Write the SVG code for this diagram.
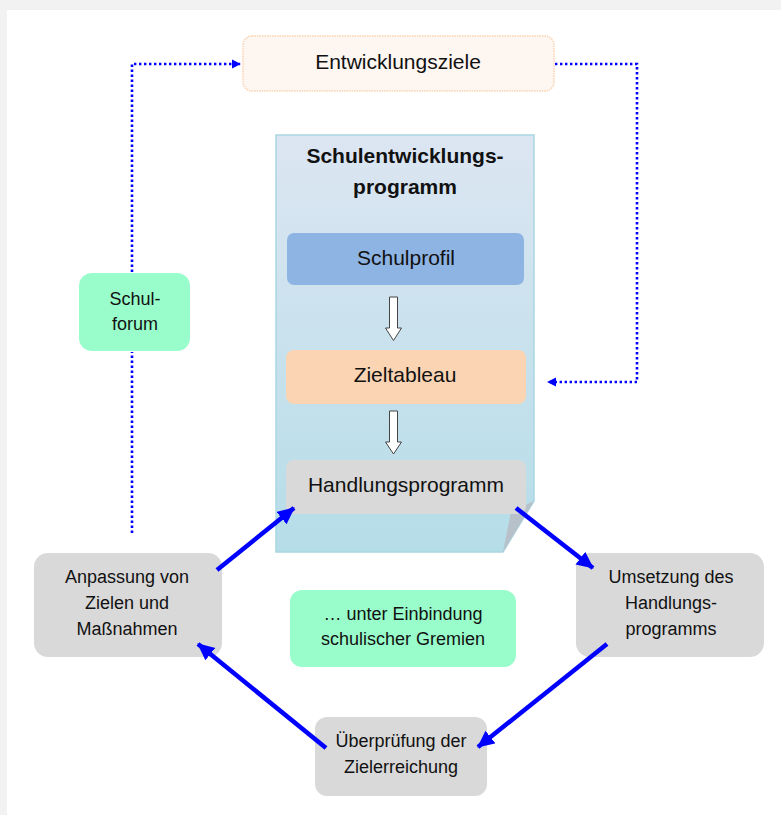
<svg xmlns="http://www.w3.org/2000/svg" width="781" height="815" viewBox="0 0 781 815">
<defs>
<linearGradient id="docGrad" x1="0" y1="0" x2="0" y2="1">
<stop offset="0" stop-color="#dce6f2"/>
<stop offset="1" stop-color="#b5dde8"/>
</linearGradient>
<marker id="dotHead" markerWidth="10" markerHeight="10" refX="8" refY="5" orient="auto" markerUnits="userSpaceOnUse">
<path d="M0,0.5 L9,5 L0,9.5 Z" fill="#0000ff"/>
</marker>
<marker id="solidHead" markerWidth="20" markerHeight="20" refX="16" refY="8" orient="auto" markerUnits="userSpaceOnUse">
<path d="M0,0 L17,8 L0,16 Z" fill="#0000ff"/>
</marker>
<style>
text{font-family:"Liberation Sans",Arial,sans-serif;fill:#111;text-anchor:middle}
.t21{font-size:21px}
.t18{font-size:18px}
.b{font-weight:bold}
.grey{fill:#d9d9d9}
.green{fill:#99fdcb}
.dot{fill:none;stroke:#0000ff;stroke-width:2.6;stroke-dasharray:2.4 2.6}
.solid{fill:none;stroke:#0000ff;stroke-width:4.5}
.hollow{fill:#fff;stroke:#444;stroke-width:1}
</style>
</defs>
<rect x="0" y="0" width="781" height="815" fill="#f2f2f2"/>
<rect x="7" y="10" width="774" height="805" fill="#fff"/>

<g id="entwicklungsziele">
<rect x="243" y="36" width="311" height="55" rx="9" fill="#fdf6f1" stroke="#fbd3b0" stroke-width="1.5" stroke-dasharray="1.5 1"/>
<text class="t21" x="398" y="69">Entwicklungsziele</text>
</g>

<g id="schulforum">
<rect x="79" y="273" width="111" height="78" rx="13" class="green"/>
<text class="t18" x="135" y="305">Schul-</text>
<text class="t18" x="135" y="330">forum</text>
</g>

<g id="programm">
<path d="M276,135 H534 V501 L503,552 H276 Z" fill="url(#docGrad)" stroke="#a9d6e2" stroke-width="1.5"/>
<path d="M534,501 L511,512 L503,552 Z" fill="#b8c1c9"/>
<text class="t21 b" x="405" y="163">Schulentwicklungs-</text>
<text class="t21 b" x="405" y="194">programm</text>
</g>

<g id="schulprofil">
<rect x="287" y="233" width="237" height="52" rx="7" fill="#8eb4e3"/>
<text class="t21" x="406" y="265">Schulprofil</text>
</g>

<g id="pfeil1">
<path class="hollow" d="M389.5,297 H397.5 V328 H401.5 L393.5,340.5 L385.5,328 H389.5 Z"/>
</g>

<g id="zieltableau">
<rect x="286" y="350" width="240" height="54" rx="8" fill="#fbd4b4"/>
<text class="t21" x="405" y="382">Zieltableau</text>
</g>

<g id="pfeil2">
<path class="hollow" d="M389.5,411 H397.5 V442 H401.5 L393.5,454 L385.5,442 H389.5 Z"/>
</g>

<g id="handlungsprogramm">
<rect x="286" y="460" width="240" height="54" rx="8" class="grey"/>
<text class="t21" x="406" y="492">Handlungsprogramm</text>
</g>

<g id="anpassung">
<rect x="34" y="553" width="188" height="104" rx="14" class="grey"/>
<text class="t18" x="127" y="583">Anpassung von</text>
<text class="t18" x="127" y="609">Zielen und</text>
<text class="t18" x="127" y="635">Maßnahmen</text>
</g>

<g id="umsetzung">
<rect x="576" y="553" width="188" height="104" rx="14" class="grey"/>
<text class="t18" x="671" y="583">Umsetzung des</text>
<text class="t18" x="671" y="609">Handlungs-</text>
<text class="t18" x="671" y="635">programms</text>
</g>

<g id="einbindung">
<rect x="290" y="590" width="226" height="77" rx="12" class="green"/>
<text class="t18" x="403" y="620">… unter Einbindung</text>
<text class="t18" x="403" y="645">schulischer Gremien</text>
</g>

<g id="ueberpruefung">
<rect x="315" y="717" width="172" height="79" rx="12" class="grey"/>
<text class="t18" x="401" y="747">Überprüfung der</text>
<text class="t18" x="401" y="773">Zielerreichung</text>
</g>

<g id="connectors">
<path class="dot" d="M132,533 V352"/>
<path class="dot" d="M132,272 V64 H240" marker-end="url(#dotHead)"/>
<path class="dot" d="M555,64 H637 V382 H548" marker-end="url(#dotHead)"/>
<line class="solid" x1="217" y1="570" x2="294" y2="508" marker-end="url(#solidHead)"/>
<line class="solid" x1="516" y1="508" x2="593" y2="568" marker-end="url(#solidHead)"/>
<line class="solid" x1="607" y1="644" x2="478" y2="747" marker-end="url(#solidHead)"/>
<line class="solid" x1="326" y1="748" x2="198" y2="644" marker-end="url(#solidHead)"/>
</g>
</svg>
